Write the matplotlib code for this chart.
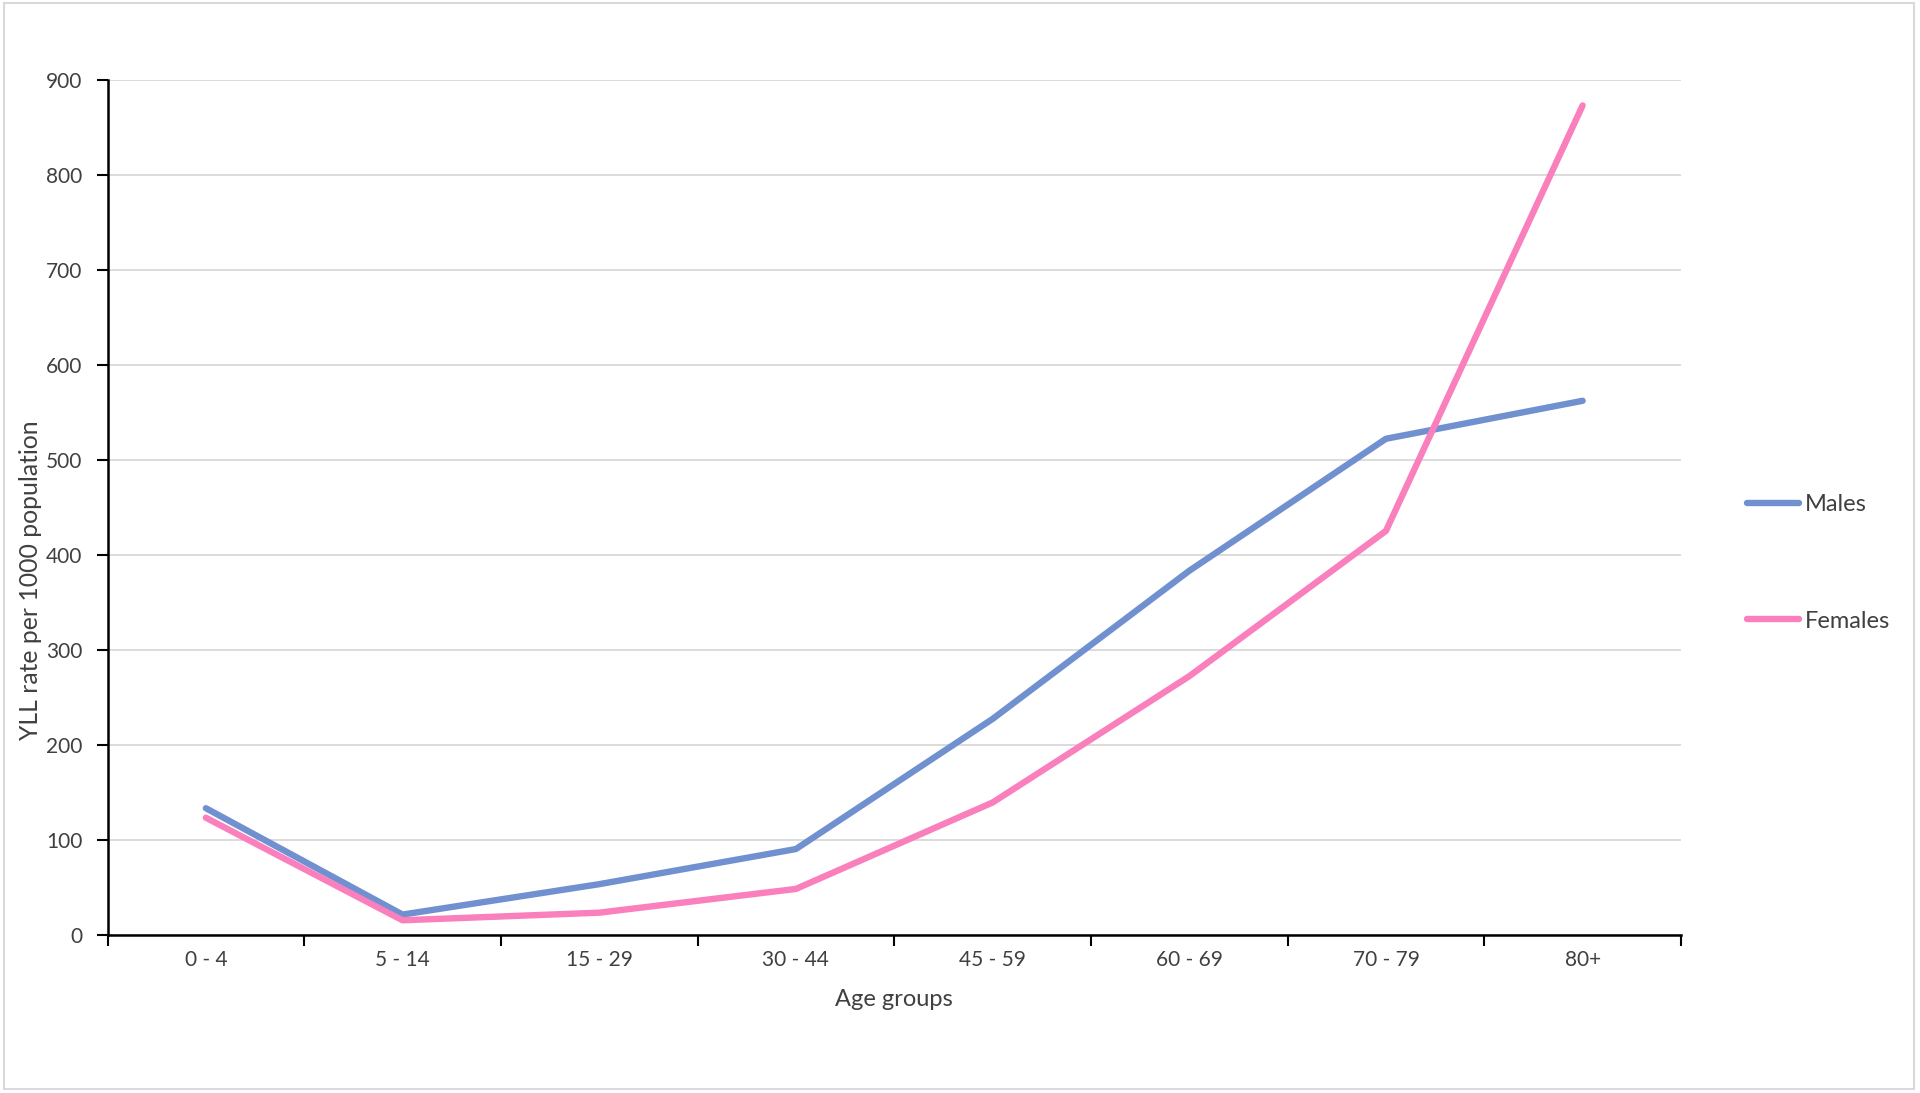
import numpy as np
import matplotlib
matplotlib.use("Agg")
import matplotlib.pyplot as plt
from matplotlib.patches import Rectangle

plt.rcParams['font.family'] = ['Lato', 'DejaVu Sans']

age_groups = ["0 - 4", "5 - 14", "15 - 29", "30 - 44", "45 - 59", "60 - 69", "70 - 79", "80+"]
males = [133, 21, 53, 90, 227, 383, 522, 562]
females = [123, 15, 23, 48, 139, 272, 425, 873]
y_ticks = [0, 100, 200, 300, 400, 500, 600, 700, 800, 900]

male_col = "#7190d0"
female_col = "#fa7fbd"
text_col = "#404040"

fig = plt.figure(figsize=(19.2, 10.93), dpi=100)
ax = fig.add_axes([0.056, 0.145, 0.8195, 0.782])

x = np.arange(len(age_groups))
ax.plot(x, males, color=male_col, lw=4.6, solid_capstyle="round", solid_joinstyle="round", label="Males", zorder=3)
ax.plot(x, females, color=female_col, lw=4.6, solid_capstyle="round", solid_joinstyle="round", label="Females", zorder=3)

ax.set_xlim(-0.5, len(age_groups) - 0.5)
ax.set_ylim(0, 900)
ax.set_yticks(y_ticks)
ax.set_yticklabels([str(v) for v in y_ticks], fontsize=15, color=text_col)
ax.set_xticks(np.arange(len(age_groups) + 1) - 0.5)
ax.set_xticklabels([])
ax.set_xticks(x, minor=True)
ax.set_xticklabels(age_groups, minor=True, fontsize=15, color=text_col)
ax.tick_params(axis="x", which="major", length=8, width=1.5, color="black")
ax.tick_params(axis="x", which="minor", length=0, pad=11)
ax.tick_params(axis="y", length=8, width=1.5, color="black", pad=10)

ax.grid(axis="y", color="#d9d9d9", lw=1.3, zorder=0)
ax.set_axisbelow(True)
for s in ["top", "right"]:
    ax.spines[s].set_visible(False)
for s in ["left", "bottom"]:
    ax.spines[s].set_linewidth(1.8)
    ax.spines[s].set_color("black")

ax.set_xlabel("Age groups", fontsize=17, color=text_col, labelpad=14)
fig.text(0.0159, 0.469, "YLL rate per 1000 population", rotation=90, ha="center", va="center",
         fontsize=17.8, color=text_col)

# legend entries placed to the right, like the original
h = ax.get_legend_handles_labels()
leg = fig.legend(*h, loc="center left", bbox_to_anchor=(0.899, 0.485), frameon=False,
                 fontsize=17, labelcolor=text_col, handlelength=2.2, handletextpad=0.25,
                 labelspacing=4.05)

fig.patches.append(Rectangle((0.002, 0.004), 0.995, 0.993, transform=fig.transFigure,
                             fill=False, edgecolor="#d9d9d9", lw=1.5))

fig.savefig("out.png", dpi=100)
